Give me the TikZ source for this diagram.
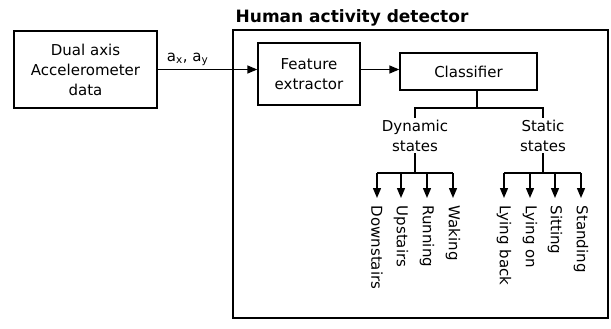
\documentclass[tikz,border=0pt]{standalone}
\usepackage{fontspec}
\setmainfont{DejaVu Sans}
\usetikzlibrary{arrows.meta}
\begin{document}
\begin{tikzpicture}[x=1pt,y=-1pt,
  line width=1.4pt,
  txt/.style={font=\fontsize{15}{20}\selectfont, align=center},
  blk/.style={draw, txt, inner sep=0pt},
  lbl/.style={txt, rotate=-90, anchor=west, inner sep=0pt},
  arr/.style={-{Triangle[length=10pt,width=8pt]}},
]
\useasboundingbox (0,0) rectangle (611,329);
% left input box
\node[blk, minimum width=143pt, minimum height=77pt] (acc) at (85.5,69.5) {Dual axis\\Accelerometer\\data};
% detector frame and title
\node[draw, minimum width=375pt, minimum height=288pt, inner sep=0pt] (frame) at (420.5,174) {};
\node[font=\fontsize{17}{20}\selectfont\bfseries, anchor=base west, inner sep=0pt] (title) at (235,23) {Human activity detector};
% blocks
\node[blk, minimum width=102pt, minimum height=62pt] (feat) at (309,74) {Feature\\extractor};
\node[blk, minimum width=137pt, minimum height=37pt] (cls) at (468.5,71.5) {Classifier};
% arrows between blocks
\draw[arr] (acc.east) -- node[txt, above, inner sep=3pt, pos=0.3] (axy) {a\textsubscript{x}, a\textsubscript{y}} (acc.east -| feat.west);
\draw[arr] (feat.east |- acc.east) -- (cls.west |- acc.east);
% state group nodes
\node[txt, anchor=north, inner sep=1pt] (dyn) at (415,118) {Dynamic\\states};
\node[txt, anchor=north, inner sep=1pt] (stat) at (543,118) {Static\\states};
\coordinate (cj) at (477,108);
\draw (cls.south -| cj) -- (cj);
\draw (dyn.north) |- (cj) -| (stat.north);
% leaves
\node[lbl] (l1) at (377,205) {Downstairs};
\node[lbl] (l2) at (401,205) {Upstairs};
\node[lbl] (l3) at (427,205) {Running};
\node[lbl] (l4) at (453,205) {Waking};
\node[lbl] (l5) at (504,205) {Lying back};
\node[lbl] (l6) at (530,205) {Lying on};
\node[lbl] (l7) at (555,205) {Sitting};
\node[lbl] (l8) at (581,205) {Standing};
\coordinate (db) at (415,173);
\coordinate (sb) at (543,173);
\draw (dyn.south) -- (db);
\draw (stat.south) -- (sb);
\draw (l1.west |- db) -- (l4.west |- db);
\draw (l5.west |- sb) -- (l8.west |- sb);
\foreach \n in {l1,l2,l3,l4}{\draw[arr, shorten >=7pt] (\n.west |- db) -- (\n.west);}
\foreach \n in {l5,l6,l7,l8}{\draw[arr, shorten >=7pt] (\n.west |- sb) -- (\n.west);}
\end{tikzpicture}
\end{document}
